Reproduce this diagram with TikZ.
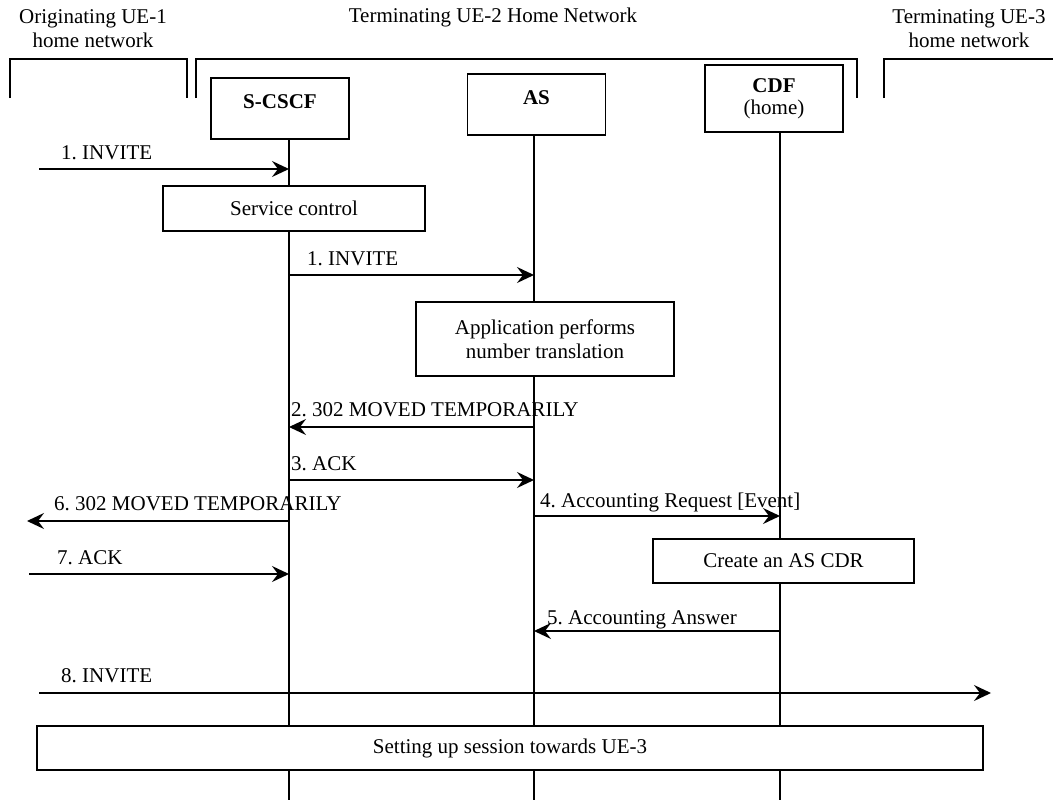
\documentclass[tikz,border=0pt]{standalone}
\usepackage{fontspec}
\setmainfont{Liberation Serif}
\usetikzlibrary{arrows.meta}
\frenchspacing
\begin{document}
\begin{tikzpicture}[x=1pt,y=-1pt,
  every node/.style={font=\fontsize{21}{24}\selectfont},
  ln/.style={line width=1.4pt},
  actor/.style={draw,line width=1.4pt,fill=white,minimum width=138pt,inner sep=0pt,align=center},
  actbox/.style={draw,line width=1.4pt,fill=white,inner sep=0pt,align=center},
  msg/.style={line width=1.4pt,-{Stealth[length=17pt,width=16pt,inset=6pt]}},
  lbl/.style={anchor=base west,inner sep=0pt},
  hdr/.style={align=center,inner sep=0pt}]
\useasboundingbox (0,0) rectangle (1053,803);
% headers
\node[hdr] (h1) at (93,29) {Originating UE-1\\home network};
\node[hdr] (h2) at (493,17) {Terminating UE-2 Home Network};
\node[hdr] (h3) at (969,29) {Terminating UE-3\\home network};
% brackets
\draw[ln] (10,98) -- (10,59) -- (187,59) -- (187,98);
\draw[ln] (196,98) -- (196,59) -- (857,59) -- (857,98);
\draw[ln] (884,98) -- (884,59) -- (1053,59);
% actors
\node[actor,minimum height=61pt,text height=12pt,text depth=12pt] (scscf) at (280,108.5) {\textbf{S-CSCF}};
\node[actor,minimum height=61pt,text height=12pt,text depth=12pt] (as) at (536.5,104.5) {\textbf{AS}};
\node[actor,minimum height=67pt] (cdf) at (774,98.5) {\textbf{CDF}\\[-2pt](home)};
% lifelines
\coordinate (sT) at (289,139); \coordinate (sB) at (289,800);
\coordinate (aT) at (534,135); \coordinate (aB) at (534,800);
\coordinate (cT) at (780,132); \coordinate (cB) at (780,800);
\draw[ln] (sT) -- (sB);
\draw[ln] (aT) -- (aB);
\draw[ln] (cT) -- (cB);
% action boxes
\node[actbox,minimum width=262pt,minimum height=45pt] (svc) at (294,208.5) {Service control};
\node[actbox,minimum width=258pt,minimum height=74pt] (app) at (545,339) {Application performs\\number translation};
\node[actbox,minimum width=261pt,minimum height=44pt] (cdr) at (783.5,561) {Create an AS CDR};
\node[actbox,minimum width=946pt,minimum height=44pt] (setup) at (510,748) {Setting up session towards UE-3};
% message end points
\coordinate (m1a) at (39,169);  \coordinate (m1b) at (289,169);
\coordinate (m2a) at (289,275); \coordinate (m2b) at (534,275);
\coordinate (m3a) at (534,427); \coordinate (m3b) at (289,427);
\coordinate (m4a) at (289,480); \coordinate (m4b) at (534,480);
\coordinate (m5a) at (289,521); \coordinate (m5b) at (27,521);
\coordinate (m6a) at (534,516); \coordinate (m6b) at (780,516);
\coordinate (m7a) at (29,574);  \coordinate (m7b) at (289,574);
\coordinate (m8a) at (780,631); \coordinate (m8b) at (534,631);
\coordinate (m9a) at (39,693);  \coordinate (m9b) at (991,693);
% messages
\draw[msg] (m1a) -- (m1b);
\node[lbl] (l1) at (61,159) {1. INVITE};
\draw[msg] (m2a) -- (m2b);
\node[lbl] (l2) at (307,265) {1. INVITE};
\draw[msg] (m3a) -- (m3b);
\node[lbl] (l3) at (291,416) {2. 302 MOVED TEMPORARILY};
\draw[msg] (m4a) -- (m4b);
\node[lbl] (l4) at (291,470) {3. ACK};
\draw[msg] (m5a) -- (m5b);
\node[lbl] (l5) at (54,510) {6. 302 MOVED TEMPORARILY};
\draw[msg] (m6a) -- (m6b);
\node[lbl] (l6) at (540,507) {4. Accounting Request [Event]};
\draw[msg] (m7a) -- (m7b);
\node[lbl] (l7) at (57,564) {7. ACK};
\draw[msg] (m8a) -- (m8b);
\node[lbl] (l8) at (547,624) {5. Accounting Answer};
\draw[msg] (m9a) -- (m9b);
\node[lbl] (l9) at (61,682) {8. INVITE};
\end{tikzpicture}
\end{document}
